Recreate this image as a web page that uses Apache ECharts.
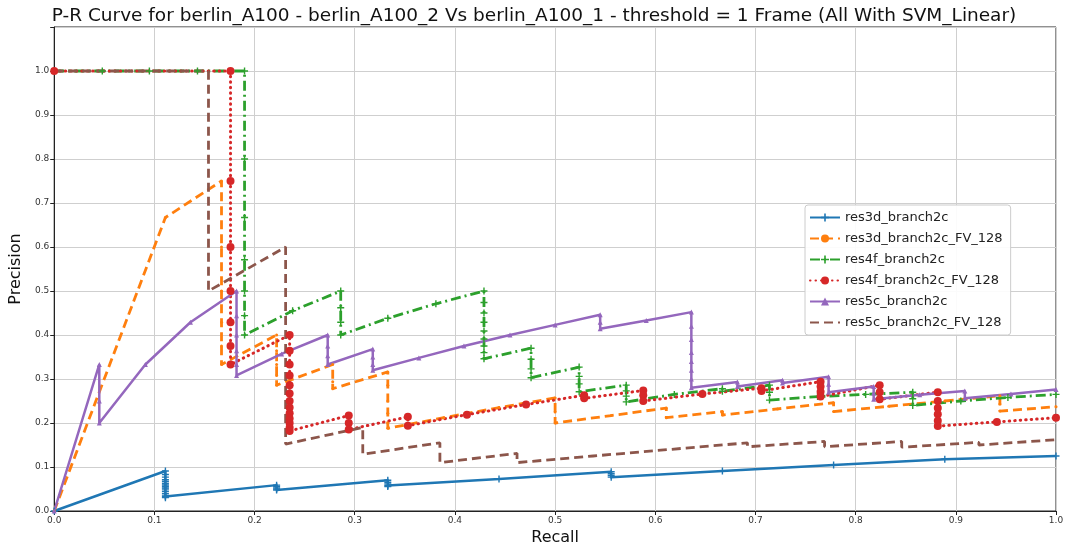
<!DOCTYPE html>
<html>
<head>
<meta charset="utf-8">
<script src="https://cdn.jsdelivr.net/npm/echarts@6/dist/echarts.min.js"></script>
<style>
html,body{margin:0;padding:0;background:#fff;}
#chart{width:1068px;height:551px;}
</style>
</head>
<body>
<div id="chart"></div>
<script>
// ---- DATA: [recall, precision] points ----
const seriesNames = ['res3d_branch2c','res3d_branch2c_FV_128','res4f_branch2c','res4f_branch2c_FV_128','res5c_branch2c','res5c_branch2c_FV_128'];

const res3dBranch2c = [
  [0,0],[0.111,0.091],[0.111,0.083],[0.111,0.077],[0.111,0.071],[0.111,0.067],[0.111,0.0625],[0.111,0.059],
  [0.111,0.0556],[0.111,0.0526],[0.111,0.05],[0.111,0.045],[0.111,0.04],[0.111,0.036],[0.111,0.033],[0.111,0.0303],
  [0.222,0.0588],[0.222,0.0556],[0.222,0.0526],[0.222,0.05],[0.222,0.0476],
  [0.333,0.0698],[0.333,0.0652],[0.333,0.0612],[0.333,0.0577],[0.333,0.0556],
  [0.444,0.0727],[0.556,0.0893],[0.556,0.0847],[0.556,0.0806],[0.556,0.0769],
  [0.667,0.0909],[0.778,0.1045],[0.889,0.1176],[1.0,0.125]
];

const res3dBranch2cFV128 = [
  [0,0],[0.111,0.667],[0.167,0.75],[0.167,0.6],[0.167,0.5],[0.167,0.429],[0.167,0.375],[0.167,0.333],
  [0.222,0.4],[0.222,0.364],[0.222,0.333],[0.222,0.308],[0.222,0.286],
  [0.278,0.333],[0.278,0.294],[0.278,0.278],
  [0.333,0.316],[0.333,0.286],[0.333,0.25],[0.333,0.222],[0.333,0.2],[0.333,0.188],
  [0.389,0.212],[0.444,0.235],[0.5,0.257],[0.5,0.225],[0.5,0.2],
  [0.556,0.217],[0.611,0.234],[0.611,0.212],[0.667,0.226],[0.667,0.218],
  [0.722,0.232],[0.778,0.246],[0.778,0.226],[0.833,0.238],[0.889,0.25],
  [0.944,0.262],[0.944,0.243],[0.944,0.227],[1.0,0.237]
];

const res4fBranch2c = [
  [0,1],[0.048,1],[0.095,1],[0.143,1],[0.19,1],[0.19,0.8],[0.19,0.667],[0.19,0.571],[0.19,0.5],[0.19,0.444],[0.19,0.4],
  [0.238,0.455],[0.286,0.5],[0.286,0.462],[0.286,0.429],[0.286,0.4],
  [0.333,0.438],[0.381,0.471],[0.429,0.5],[0.429,0.474],[0.429,0.45],[0.429,0.429],[0.429,0.409],[0.429,0.391],[0.429,0.375],[0.429,0.36],[0.429,0.346],
  [0.476,0.37],[0.476,0.345],[0.476,0.323],[0.476,0.303],
  [0.524,0.327],[0.524,0.306],[0.524,0.289],[0.524,0.271],
  [0.571,0.286],[0.571,0.273],[0.571,0.261],[0.571,0.248],
  [0.619,0.265],[0.667,0.278],[0.667,0.272],[0.714,0.286],[0.714,0.27],[0.714,0.252],
  [0.762,0.26],[0.81,0.265],[0.857,0.27],[0.857,0.255],[0.857,0.24],
  [0.905,0.25],[0.952,0.258],[1.0,0.265]
];

const res4fBranch2cFV128 = [
  [0,1],[0.176,1],[0.176,0.75],[0.176,0.6],[0.176,0.5],[0.176,0.429],[0.176,0.375],[0.176,0.333],
  [0.235,0.4],[0.235,0.364],[0.235,0.333],[0.235,0.308],[0.235,0.286],[0.235,0.267],[0.235,0.25],[0.235,0.235],
  [0.235,0.222],[0.235,0.21],[0.235,0.2],[0.235,0.19],[0.235,0.182],
  [0.294,0.217],[0.294,0.2],[0.294,0.185],[0.353,0.214],[0.353,0.194],
  [0.412,0.219],[0.471,0.242],[0.529,0.263],[0.529,0.256],
  [0.588,0.274],[0.588,0.263],[0.588,0.25],[0.647,0.266],[0.706,0.279],[0.706,0.273],
  [0.765,0.294],[0.765,0.283],[0.765,0.271],[0.765,0.26],
  [0.824,0.286],[0.824,0.27],[0.824,0.254],
  [0.882,0.27],[0.882,0.25],[0.882,0.234],[0.882,0.22],[0.882,0.205],[0.882,0.193],
  [0.941,0.2025],[1.0,0.212]
];

const res5cBranch2c = [
  [0,0],[0.045,0.333],[0.045,0.25],[0.045,0.2],[0.091,0.333],[0.136,0.429],
  [0.182,0.5],[0.182,0.444],[0.182,0.4],[0.182,0.364],[0.182,0.333],[0.182,0.308],
  [0.227,0.357],[0.273,0.4],[0.273,0.375],[0.273,0.353],[0.273,0.333],
  [0.318,0.368],[0.318,0.35],[0.318,0.333],[0.318,0.32],
  [0.364,0.348],[0.409,0.375],[0.455,0.4],[0.5,0.423],[0.545,0.446],[0.545,0.429],[0.545,0.414],
  [0.591,0.433],[0.636,0.452],[0.636,0.42],[0.636,0.39],[0.636,0.36],[0.636,0.34],[0.636,0.32],[0.636,0.3],[0.636,0.28],
  [0.682,0.293],[0.682,0.283],[0.727,0.297],[0.727,0.291],[0.773,0.305],[0.773,0.288],[0.773,0.27],
  [0.818,0.283],[0.818,0.268],[0.818,0.254],[0.864,0.264],[0.909,0.273],[0.909,0.256],
  [0.955,0.266],[1.0,0.276]
];

const res5cBranch2cFV128 = [
  [0,1],[0.077,1],[0.154,1],[0.154,0.667],[0.154,0.5],
  [0.231,0.6],[0.231,0.5],[0.231,0.375],[0.231,0.3],[0.231,0.25],[0.231,0.2],[0.231,0.152],
  [0.308,0.19],[0.308,0.16],[0.308,0.129],[0.385,0.155],[0.385,0.13],[0.385,0.11],
  [0.462,0.131],[0.462,0.11],[0.538,0.125],[0.615,0.14],[0.692,0.155],[0.692,0.146],
  [0.769,0.158],[0.769,0.146],[0.846,0.158],[0.846,0.145],[0.923,0.156],[0.923,0.15],[1.0,0.162]
];

const xTicks = [0,0.1,0.2,0.3,0.4,0.5,0.6,0.7,0.8,0.9,1.0];
const yTicks = [0,0.1,0.2,0.3,0.4,0.5,0.6,0.7,0.8,0.9,1.0];
const titleText = 'P-R Curve for berlin_A100 - berlin_A100_2 Vs berlin_A100_1 - threshold = 1 Frame (All With SVM_Linear)';

// ---- CHART ----
const FONT = 'DejaVu Sans';
const plusPath = 'path://M4,0H6V4H10V6H6V10H4V6H0V4H4Z';
const chart = echarts.init(document.getElementById('chart'), null, {renderer: 'canvas'});

function mkSeries(name, data, color, lineType, width, symbol, symbolSize, cap) {
  return {
    name: name, type: 'line', data: data,
    symbol: symbol || 'none', symbolSize: symbolSize || 0,
    showSymbol: !!symbol,
    animation: false,
    lineStyle: {color: color, width: width, type: lineType, cap: cap || 'butt'},
    itemStyle: {color: color, borderWidth: 0},
    emphasis: {disabled: true}
  };
}

const series = [
  mkSeries(seriesNames[0], res3dBranch2c, '#1f77b4', 'solid', 2.5, plusPath, 7),
  mkSeries(seriesNames[1], res3dBranch2cFV128, '#ff7f0e', [9, 5], 2.8, 'circle', 3),
  mkSeries(seriesNames[2], res4fBranch2c, '#2ca02c', [10, 4, 2, 4], 2.8, plusPath, 7),
  mkSeries(seriesNames[3], res4fBranch2cFV128, '#d62728', [0.5, 5], 3, 'circle', 8, 'round'),
  mkSeries(seriesNames[4], res5cBranch2c, '#9467bd', 'solid', 2.5, 'triangle', 5),
  mkSeries(seriesNames[5], res5cBranch2cFV128, '#8c564b', [9, 5], 2.8, null, 0)
];

const legendData = seriesNames.map((n, i) => i === 5 ? {name: n, itemStyle: {opacity: 0}} : {name: n});

chart.setOption({
  backgroundColor: '#fff',
  animation: false,
  title: {
    text: titleText, left: 'center', top: 2,
    textStyle: {fontFamily: FONT, fontSize: 18.5, fontWeight: 'normal', color: '#111'}
  },
  legend: {
    orient: 'vertical', left: 805, top: 205,
    itemWidth: 30, itemHeight: 10, itemGap: 8,
    padding: [6, 8, 6, 4],
    backgroundColor: 'rgba(255,255,255,0.9)',
    borderColor: '#cccccc', borderWidth: 1, borderRadius: 3,
    textStyle: {fontFamily: FONT, fontSize: 13, color: '#222'},
    data: legendData
  },
  grid: {left: 52, right: 12, top: 27, bottom: 40, show: true, borderColor: '#222', borderWidth: 1, backgroundColor: 'transparent'},
  xAxis: {
    type: 'value', min: 0, max: 1, interval: 0.1,
    name: 'Recall', nameLocation: 'middle', nameGap: 18,
    nameTextStyle: {fontFamily: FONT, fontSize: 16, color: '#111'},
    axisLine: {show: true, lineStyle: {color: '#222', width: 1}},
    axisTick: {show: true, length: 4, lineStyle: {color: '#222'}},
    axisLabel: {fontFamily: FONT, fontSize: 9, color: '#333', margin: 5,
      formatter: v => (xTicks.some(t => Math.abs(t - v) < 1e-6) ? v.toFixed(1) : '')},
    splitLine: {show: true, lineStyle: {color: '#cfcfcf', width: 1}}
  },
  yAxis: {
    type: 'value', min: 0, max: 1.1, interval: 0.1,
    name: 'Precision', nameLocation: 'middle', nameGap: 27, nameRotate: 90,
    nameTextStyle: {fontFamily: FONT, fontSize: 16, color: '#111'},
    axisLine: {show: true, lineStyle: {color: '#222', width: 1}},
    axisTick: {show: true, length: 4, lineStyle: {color: '#222'}},
    axisLabel: {fontFamily: FONT, fontSize: 9, color: '#333', margin: 5,
      formatter: v => (yTicks.some(t => Math.abs(t - v) < 1e-6) ? v.toFixed(1) : '')},
    splitLine: {show: true, lineStyle: {color: '#cfcfcf', width: 1}}
  },
  series: series
});
</script>
</body>
</html>
